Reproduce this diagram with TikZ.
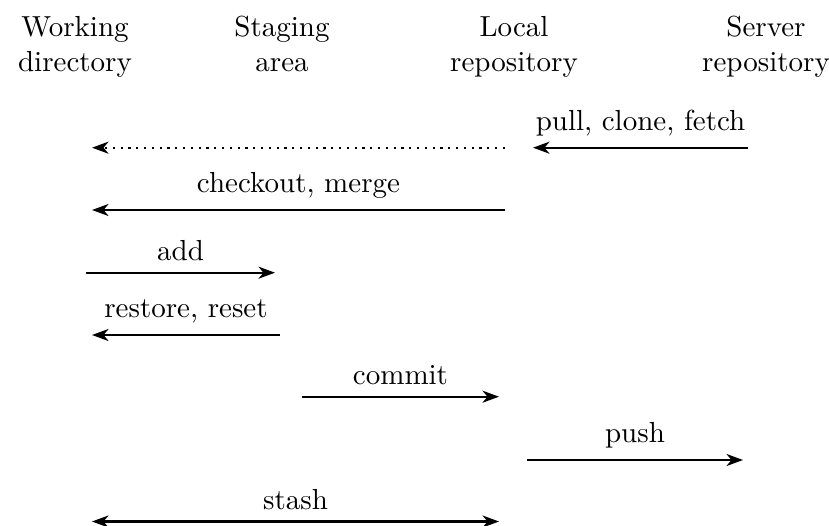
\documentclass[tikz,border=0pt]{standalone}
\usepackage{fontspec}
\setmainfont{lmroman10-regular.otf}
\usetikzlibrary{arrows.meta}
\begin{document}
\begin{tikzpicture}[x=1pt,y=-1pt,
  every node/.style={font=\fontsize{29}{35.5}\selectfont},
  place/.style={align=center, anchor=base, inner sep=0pt},
  flow/.style={line width=2.3pt, -{Stealth[length=16.5pt,width=12pt,inset=5pt]}},
  twoway/.style={line width=2.3pt, {Stealth[length=16.5pt,width=12pt,inset=5pt]}-{Stealth[length=16.5pt,width=12pt,inset=5pt]}},
  hint/.style={flow, dash pattern=on 2.3pt off 5.5pt},
  lbl/.style={above, inner sep=12pt, outer sep=0pt}]
\useasboundingbox (0,0) rectangle (829,526);

% column headings (base = baseline of the second line)
\node[place] (wd) at (75,72)  {Working\\directory};
\node[place] (sa) at (282,72) {Staging\\area};
\node[place] (lr) at (514,72) {Local\\repository};
\node[place] (sr) at (766,72) {Server\\repository};

% end points of the operations
\coordinate (pullA) at (748,147.7);  \coordinate (pullB) at (533,147.7);
\coordinate (dotA)  at (505,147.7);  \coordinate (dotB)  at (92,147.7);
\coordinate (coA)   at (505,210);    \coordinate (coB)   at (92,210);
\coordinate (addA)  at (86,272.7);   \coordinate (addB)  at (275,272.7);
\coordinate (rsA)   at (280,335);    \coordinate (rsB)   at (92,335);
\coordinate (cmA)   at (302,396.7);  \coordinate (cmB)   at (499,396.7);
\coordinate (puA)   at (527,460);    \coordinate (puB)   at (743,460);
\coordinate (stA)   at (92,521.5);   \coordinate (stB)   at (499,521.5);

% operations
\draw[flow] (pullA) -- node[lbl] (pullL) {pull, clone, fetch} (pullB);
\draw[hint] (dotA) -- (dotB);
\draw[flow] (coA) -- node[lbl] (coL) {checkout, merge} (coB);
\draw[flow] (addA) -- node[lbl] (addL) {add} (addB);
\draw[flow] (rsA) -- node[lbl] (rsL) {restore, reset} (rsB);
\draw[flow] (cmA) -- node[lbl] (cmL) {commit} (cmB);
\draw[flow] (puA) -- node[lbl] (puL) {push} (puB);
\draw[twoway] (stA) -- node[lbl] (stL) {stash} (stB);
\end{tikzpicture}
\end{document}
